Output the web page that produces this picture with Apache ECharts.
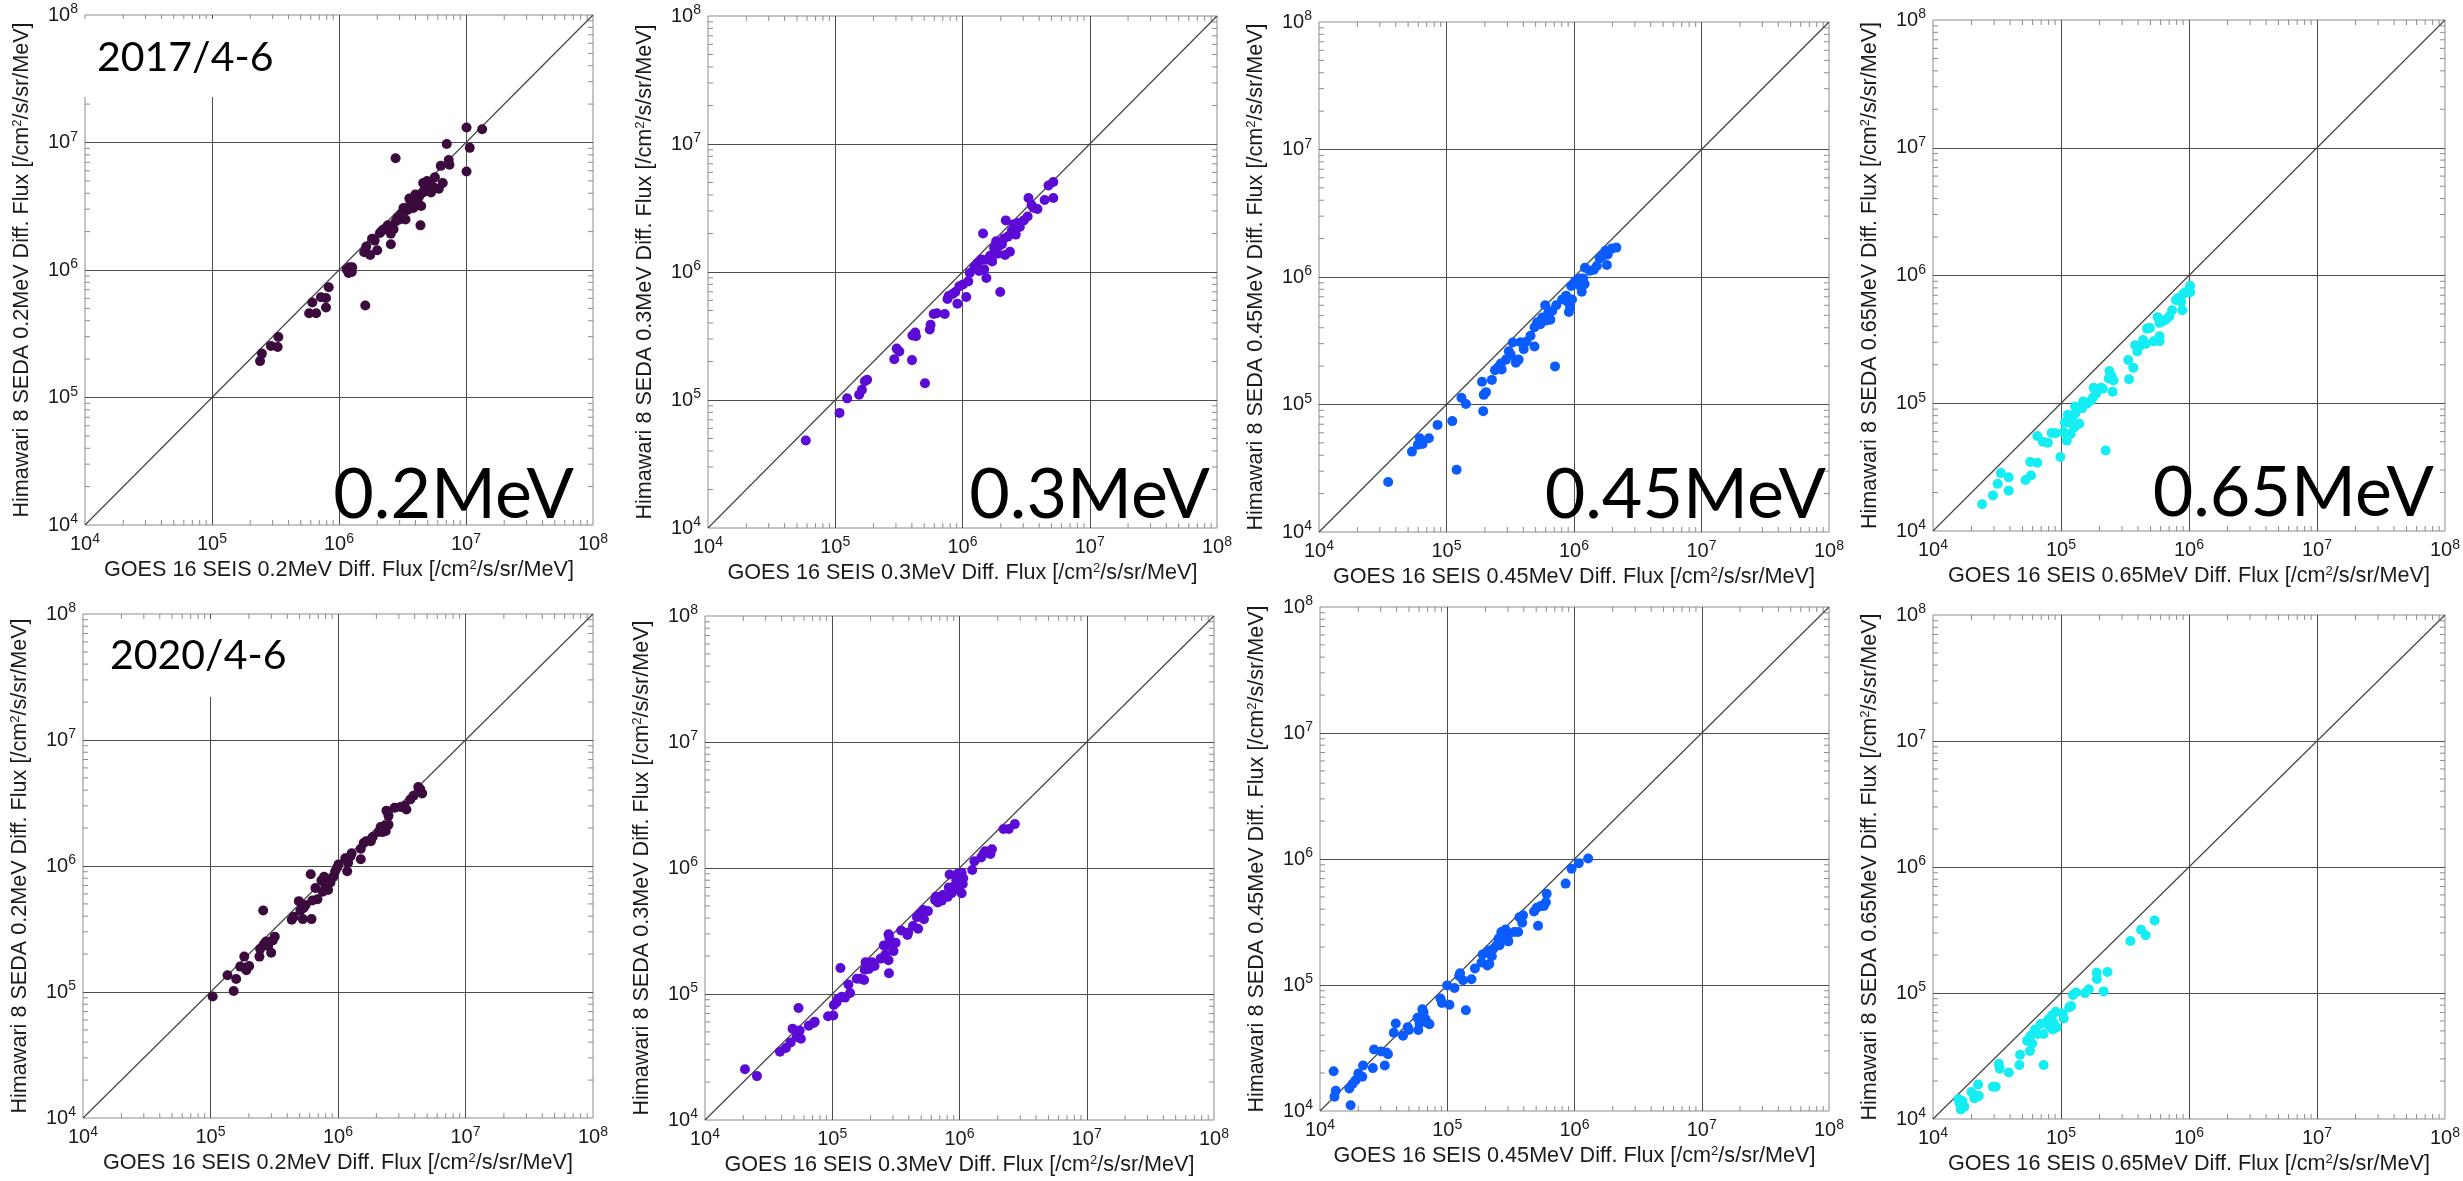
<!DOCTYPE html>
<html><head><meta charset="utf-8">
<script src="https://cdn.jsdelivr.net/npm/echarts@6/dist/echarts.min.js"></script>
<style>html,body{margin:0;padding:0;background:#fff}#c{width:2463px;height:1181px}</style>
</head><body><div id="c"></div>
<script>
// ---------- data ----------
const energies = ['0.2MeV', '0.3MeV', '0.45MeV', '0.65MeV'];
const periods = ['2017/4-6', '2020/4-6'];
const energyColors = ['#3b0b3e', '#5c0ad6', '#0a5cff', '#14eef2'];
const minorTickValues = [2e4,3e4,4e4,5e4,6e4,7e4,8e4,9e4, 2e5,3e5,4e5,5e5,6e5,7e5,8e5,9e5,
  2e6,3e6,4e6,5e6,6e6,7e6,8e6,9e6, 2e7,3e7,4e7,5e7,6e7,7e7,8e7,9e7];
const diagLine = [[1e4, 1e4], [1e8, 1e8]];

const p17_02 = [[2.39e5,1.93e5],[2.47e5,2.21e5],[2.91e5,2.54e5],[3.29e5,2.49e5],[3.33e5,2.98e5],
[5.82e5,4.58e5],[6.16e5,5.56e5],[6.61e5,4.58e5],[7.2e5,6.12e5],[7.9e5,6.04e5],[7.9e5,5.08e5],[8.3e5,7.33e5],
[1.15e6,1.01e6],[1.21e6,1.05e6],[1.26e6,9.66e5],[1.27e6,1.05e6],[1.19e6,9.46e5],
[1.61e6,5.26e5],[1.58e6,1.38e6],[1.64e6,1.53e6],[1.76e6,1.31e6],[1.82e6,1.76e6],[1.91e6,1.7e6],[2.0e6,1.43e6],[2.1e6,1.95e6],[2.17e6,2.02e6],[2.25e6,2.09e6],
[2.56e6,1.59e6],[2.56e6,1.93e6],[2.69e6,2.09e6],[2.79e6,2.4e6],[2.89e6,2.58e6],[2.79e6,7.53e6],[2.42e6,2.24e6],[3.0e6,2.49e6],
[3.1e6,2.76e6],[3.22e6,3.06e6],[3.34e6,2.49e6],[3.46e6,2.96e6],[3.58e6,3.64e6],[3.71e6,3.29e6],[3.85e6,3.52e6],[3.99e6,3.91e6],
[4.13e6,3.52e6],[4.28e6,3.78e6],[4.38e6,2.24e6],[4.44e6,3.18e6],[4.6e6,4.05e6],[4.6e6,4.81e6],[4.77e6,4.49e6],[4.94e6,4.98e6],
[5.12e6,4.65e6],[5.3e6,4.05e6],[5.5e6,4.49e6],[5.69e6,5.33e6],[6.11e6,4.34e6],[6.33e6,6.56e6],[6.56e6,4.81e6],[7.05e6,9.72e6],
[7.31e6,7.28e6],[7.41e6,6.7e6],[1.01e7,1.31e7],[1.07e7,9.08e6],[1.01e7,5.92e6],[1.34e7,1.27e7],[3.58e6,3.06e6],[3.85e6,3.06e6]];

const p17_03 = [[5.87e4,4.82e4],[1.08e5,7.93e4],[1.24e5,1.03e5],[1.54e5,1.1e5],[1.62e5,1.2e5],[1.71e5,1.4e5],[1.78e5,1.44e5],
[2.91e5,2.08e5],[3.04e5,2.52e5],[3.19e5,2.39e5],[4.01e5,2.05e5],[4.04e5,3.19e5],[4.25e5,3.37e5],[4.31e5,3.15e5],[5.07e5,1.35e5],
[5.53e5,3.56e5],[5.61e5,3.87e5],[5.94e5,4.7e5],[6.29e5,4.76e5],[7.25e5,4.7e5],[7.62e5,6.15e5],[7.78e5,6.5e5],[8.36e5,6.73e5],
[8.79e5,6.97e5],[9.12e5,5.66e5],[9.45e5,7.73e5],[1.01e6,8.0e5],[1.07e6,6.37e5],[1.11e6,8.45e5],[1.14e6,9.84e5],[1.24e6,1.09e6],
[1.31e6,1.17e6],[1.35e6,1.02e6],[1.41e6,1.25e6],[1.45e6,2.0e6],[1.48e6,1.05e6],[1.54e6,8.99e5],[1.56e6,1.25e6],[1.65e6,1.34e6],
[1.71e6,1.21e6],[1.77e6,1.54e6],[1.84e6,1.74e6],[1.88e6,1.39e6],[1.93e6,1.59e6],[1.98e6,6.97e5],[2.04e6,1.65e6],[2.12e6,1.83e6],
[2.16e6,1.36e6],[2.19e6,2.53e6],[2.27e6,1.89e6],[2.36e6,1.44e6],[2.44e6,2.1e6],[2.53e6,2.36e6],[2.62e6,1.96e6],[2.72e6,2.41e6],
[2.82e6,2.25e6],[3.03e6,2.53e6],[3.25e6,2.71e6],[3.3e6,3.78e6],[3.49e6,3.34e6],[3.61e6,3.18e6],[3.88e6,3.11e6],[4.42e6,3.65e6],
[4.74e6,4.74e6],[5.17e6,5.05e6],[5.17e6,3.78e6]];

const p17_045 = [[3.49e4,2.47e4],[5.36e4,4.27e4],[5.96e4,4.83e4],[6.18e4,5.43e4],[6.49e4,4.9e4],[7.28e4,5.43e4],[8.51e4,6.92e4],
[1.11e5,7.41e4],[1.2e5,3.08e4],[1.31e5,1.13e5],[1.42e5,1.01e5],[1.9e5,1.51e5],[1.94e5,8.87e4],[1.96e5,1.19e5],[2.04e5,1.25e5],
[2.27e5,1.56e5],[2.4e5,1.86e5],[2.54e5,1.96e5],[2.67e5,2.1e5],[2.71e5,1.88e5],[2.93e5,2.25e5],[3.08e5,2.62e5],[3.19e5,2.45e5],
[3.31e5,3.06e5],[3.5e5,2.13e5],[3.68e5,2.25e5],[3.81e5,3.08e5],[4.03e5,2.72e5],[4.25e5,3.12e5],[4.56e5,3.46e5],[4.9e5,2.85e5],
[4.9e5,4.03e5],[5.15e5,4.41e5],[5.45e5,4.26e5],[5.65e5,4.82e5],[5.94e5,6.01e5],[6.07e5,4.56e5],[6.29e5,5.24e5],[6.52e5,4.63e5],
[6.75e5,5.42e5],[7.1e5,1.99e5],[7.25e5,6.01e5],[8.07e5,6.67e5],[8.67e5,7.14e5],[8.86e5,6.44e5],[9.12e5,5.31e5],[9.32e5,5.81e5],
[9.51e5,8.49e5],[9.65e5,6.67e5],[1.02e6,9.22e5],[1.07e6,8.79e5],[1.1e6,9.75e5],[1.13e6,8.37e5],[1.15e6,7.66e5],[1.18e6,9.75e5],
[1.21e6,8.79e5],[1.22e6,1.18e6],[1.33e6,1.12e6],[1.43e6,1.14e6],[1.51e6,1.22e6],[1.59e6,1.4e6],[1.68e6,1.46e6],[1.77e6,1.61e6],
[1.81e6,1.24e6],[1.84e6,1.5e6],[1.97e6,1.67e6],[2.15e6,1.7e6]];

const p17_065 = [[2.42e4,1.62e4],[2.94e4,1.9e4],[3.2e4,2.34e4],[3.39e4,2.84e4],[3.9e4,2.07e4],[3.9e4,2.63e4],[5.28e4,2.51e4],
[5.75e4,3.47e4],[5.83e4,2.72e4],[6.53e4,3.42e4],[6.53e4,5.55e4],[7.21e4,5.0e4],[7.89e4,4.9e4],[8.47e4,5.86e4],[9.09e4,5.82e4],
[9.89e4,3.79e4],[1.05e5,5.94e4],[1.07e5,7.06e4],[1.11e5,5.1e4],[1.13e5,8.11e4],[1.16e5,7.06e4],[1.19e5,5.74e4],[1.23e5,7.83e4],
[1.27e5,6.46e4],[1.29e5,8.28e4],[1.29e5,9.44e4],[1.39e5,6.92e4],[1.46e5,9.12e4],[1.49e5,1.03e5],[1.6e5,9.98e4],[1.72e5,1.05e5],
[1.78e5,1.11e5],[1.8e5,1.32e5],[1.88e5,1.19e5],[1.93e5,1.27e5],[2.05e5,1.32e5],[2.12e5,1.3e5],[2.23e5,4.27e4],[2.36e5,1.56e5],
[2.39e5,1.79e5],[2.48e5,1.64e5],[2.53e5,1.23e5],[2.57e5,1.51e5],[3.35e5,2.18e5],[3.4e5,1.54e5],[3.67e5,1.9e5],[3.8e5,2.85e5],
[3.94e5,2.54e5],[4.14e5,2.81e5],[4.38e5,3.12e5],[4.6e5,2.91e5],[4.7e5,3.84e5],[4.94e5,3.89e5],[5.3e5,3.06e5],[5.69e5,4.72e5],
[5.89e5,3.06e5],[5.89e5,3.34e5],[5.89e5,4.26e5],[6.32e5,4.41e5],[6.68e5,4.56e5],[7.03e5,4.79e5],[7.38e5,5.35e5],[7.92e5,6.44e5],
[8.26e5,6.67e5],[8.68e5,6.22e5],[8.87e5,5.35e5],[8.99e5,7.14e5],[9.32e5,7.4e5],[9.79e5,7.4e5],[1.02e6,8.32e5],[1.02e6,7.4e5]];

const p20_02 = [[1.04e5,9.2e4],[1.36e5,1.36e5],[1.52e5,1.02e5],[1.59e5,1.27e5],[1.71e5,1.59e5],[1.84e5,1.91e5],[1.87e5,1.56e5],
[1.91e5,1.49e5],[2.01e5,1.61e5],[2.42e5,1.91e5],[2.45e5,2.19e5],[2.59e5,4.44e5],[2.63e5,2.4e5],[2.73e5,2.52e5],[2.83e5,2.32e5],
[2.99e5,2.05e5],[3.08e5,2.57e5],[3.19e5,2.75e5],[4.34e5,3.74e5],[4.5e5,3.95e5],[4.93e5,5.26e5],[5.07e5,4.44e5],[5.3e5,3.79e5],
[5.37e5,4.65e5],[5.57e5,4.91e5],[6.11e5,8.61e5],[6.2e5,3.79e5],[6.29e5,5.33e5],[6.65e5,6.68e5],[6.9e5,5.45e5],[7.41e5,7.66e5],
[7.57e5,6.24e5],[7.78e5,8.2e5],[7.96e5,7.02e5],[8.24e5,7.4e5],[8.36e5,6.46e5],[8.73e5,7.4e5],[9.18e5,8.2e5],[9.51e5,9.08e5],
[9.86e5,9.72e5],[1.01e6,1.03e6],[1.14e6,1.15e6],[1.18e6,9.08e5],[1.2e6,1.06e6],[1.25e6,1.19e6],[1.28e6,1.26e6],[1.51e6,1.13e6],
[1.51e6,1.37e6],[1.59e6,1.52e6],[1.66e6,1.57e6],[1.81e6,1.57e6],[1.87e6,1.7e6],[2.09e6,1.86e6],[2.16e6,2.04e6],[2.24e6,1.86e6],
[2.32e6,2.09e6],[2.37e6,1.9e6],[2.4e6,2.75e6],[2.49e6,2.13e6],[2.49e6,2.5e6],[2.78e6,2.9e6],[3.09e6,2.94e6],[3.32e6,3.01e6],
[3.44e6,2.81e6],[3.69e6,3.37e6],[3.91e6,3.61e6],[4.26e6,4.23e6],[4.41e6,4.08e6],[4.57e6,3.77e6]];

const p20_03 = [[2.06e4,2.53e4],[2.56e4,2.23e4],[3.88e4,3.48e4],[4.32e4,3.73e4],[4.71e4,4.13e4],[4.88e4,5.31e4],[5.24e4,4.57e4],
[5.43e4,7.73e4],[5.55e4,5.14e4],[5.67e4,4.42e4],[6.54e4,5.61e4],[7.13e4,5.89e4],[7.28e4,6.01e4],[9.27e4,6.65e4],[1.02e5,6.75e4],
[1.03e5,8.17e4],[1.08e5,8.57e4],[1.11e5,9.17e4],[1.16e5,1.61e5],[1.19e5,9.49e4],[1.26e5,9.36e4],[1.34e5,1.19e5],[1.38e5,1.02e5],
[1.56e5,1.32e5],[1.66e5,1.32e5],[1.78e5,1.29e5],[1.8e5,1.56e5],[1.83e5,1.79e5],[1.94e5,1.58e5],[2.05e5,1.79e5],[2.15e5,1.67e5],
[2.4e5,1.91e5],[2.54e5,2.43e5],[2.61e5,2.05e5],[2.77e5,2.98e5],[2.77e5,2.43e5],[2.77e5,1.85e5],[2.79e5,1.46e5],[2.81e5,2.79e5],
[3.03e5,2.19e5],[3.15e5,2.55e5],[3.48e5,3.19e5],[3.9e5,2.94e5],[3.95e5,3.08e5],[4.31e5,3.47e5],[4.63e5,4.06e5],[4.73e5,3.3e5],
[4.9e5,4.34e5],[5.19e5,4.64e5],[5.26e5,3.92e5],[5.65e5,4.55e5],[6.43e5,5.58e5],[6.52e5,5.9e5],[6.75e5,5.32e5],[7.1e5,5.9e5],
[7.25e5,5.51e5],[7.41e5,6.1e5],[7.78e5,5.97e5],[8.07e5,5.9e5],[8.24e5,7.0e5],[8.36e5,8.87e5],[8.67e5,6.31e5],[9.18e5,7.22e5],
[9.45e5,8.01e5],[9.65e5,9.0e5],[9.86e5,6.76e5],[1.01e6,8.29e5],[1.04e6,9.18e5],[1.04e6,6.31e5],[1.06e6,7.48e5],[1.07e6,8.29e5],
[1.26e6,9.64e5],[1.31e6,1.13e6],[1.48e6,1.21e6],[1.54e6,1.29e6],[1.59e6,1.36e6],[1.67e6,1.34e6],[1.75e6,1.29e6],[1.8e6,1.41e6],
[2.22e6,2.04e6],[2.44e6,2.04e6],[2.72e6,2.23e6]];

const p20_045 = [[1.28e4,2.07e4],[1.3e4,1.3e4],[1.33e4,1.45e4],[1.7e4,1.51e4],[1.74e4,1.11e4],[1.8e4,1.64e4],[1.9e4,1.75e4],
[2.0e4,1.98e4],[2.15e4,1.87e4],[2.18e4,2.3e4],[2.6e4,2.19e4],[2.66e4,3.08e4],[3.03e4,2.97e4],[3.23e4,2.3e4],[3.34e4,2.91e4],
[3.42e4,2.82e4],[3.8e4,4.18e4],[3.94e4,4.95e4],[4.49e4,3.96e4],[4.89e4,4.63e4],[4.99e4,4.39e4],[5.84e4,5.49e4],[5.92e4,4.39e4],
[6.06e4,4.95e4],[6.37e4,6.43e4],[6.51e4,6.08e4],[6.74e4,5.38e4],[6.99e4,5.02e4],[7.24e4,4.89e4],[8.84e4,7.82e4],[9.09e4,7.21e4],
[9.98e4,9.93e4],[1.04e5,6.97e4],[1.14e5,9.46e4],[1.24e5,1.18e5],[1.26e5,1.24e5],[1.33e5,1.09e5],[1.4e5,6.3e4],[1.55e5,1.11e5],
[1.65e5,1.35e5],[1.86e5,1.51e5],[1.9e5,1.75e5],[2.07e5,1.43e5],[2.11e5,1.87e5],[2.14e5,1.47e5],[2.24e5,1.69e5],[2.3e5,1.94e5],
[2.44e5,2.07e5],[2.53e5,2.34e5],[2.58e5,2.07e5],[2.66e5,2.63e5],[2.77e5,2.3e5],[2.87e5,2.76e5],[2.98e5,2.41e5],[3.02e5,2.22e5],
[3.36e5,2.63e5],[3.61e5,2.63e5],[3.69e5,3.45e5],[3.88e5,3.12e5],[3.94e5,3.57e5],[4.81e5,3.83e5],[5.06e5,4.1e5],[5.17e5,2.95e5],
[5.43e5,4.24e5],[5.74e5,4.24e5],[5.96e5,4.54e5],[6.04e5,5.31e5],[8.51e5,6.38e5],[9.48e5,8.38e5],[1.08e6,9.27e5],[1.28e6,1.01e6]];

const p20_065 = [[1.58e4,1.44e4],[1.61e4,1.34e4],[1.65e4,1.19e4],[1.7e4,1.39e4],[1.76e4,1.25e4],[2.0e4,1.64e4],[2.1e4,1.46e4],
[2.22e4,1.5e4],[2.25e4,1.88e4],[2.28e4,1.53e4],[2.94e4,1.8e4],[3.09e4,1.8e4],[3.27e4,2.74e4],[3.32e4,2.51e4],[3.91e4,2.34e4],
[4.73e4,2.68e4],[4.79e4,3.24e4],[5.44e4,4.17e4],[5.72e4,3.47e4],[5.76e4,4.56e4],[5.96e4,3.98e4],[6.26e4,5.13e4],[6.63e4,4.72e4],
[6.96e4,5.67e4],[7.32e4,2.68e4],[7.32e4,4.72e4],[7.63e4,5.8e4],[8.02e4,6.2e4],[8.13e4,5.48e4],[8.49e4,6.64e4],[8.61e4,5.13e4],
[8.73e4,5.8e4],[9.11e4,7.1e4],[9.24e4,5.33e4],[1.03e5,6.87e4],[1.05e5,6.28e4],[1.16e5,7.71e4],[1.2e5,7.87e4],[1.24e5,9.64e4],
[1.31e5,1.01e5],[1.54e5,9.98e4],[1.65e5,1.07e5],[1.9e5,1.45e5],[1.91e5,1.29e5],[2.15e5,1.03e5],[2.31e5,1.47e5],[3.48e5,2.59e5],
[4.22e5,3.18e5],[4.59e5,2.87e5],[5.39e5,3.77e5]];

const panelData = [p17_02, p17_03, p17_045, p17_065, p20_02, p20_03, p20_045, p20_065];

// ---------- layout (pixels) ----------
const gridBoxes = [
  [85, 15, 508, 510], [708, 16, 509, 512], [1319, 22, 510, 510], [1933, 20, 516, 511],
  [83, 614, 510, 504], [705, 616, 509, 504], [1320, 607, 509, 504], [1933, 615, 517, 504]
];
const AX_FONT = 'Liberation Sans';
const TXT = '#1a1a1a';

function tickFmt(v) {
  const e = Math.round(Math.log10(v));
  return '{b|10}{s|' + e + '}';
}
const tickRich = {
  b: { fontSize: 20, fontFamily: AX_FONT, color: TXT },
  s: { fontSize: 14, fontFamily: AX_FONT, color: TXT, padding: [0, 0, 11, 0] }
};
const nameStyle = {
  fontSize: 21.6, fontFamily: AX_FONT, color: TXT,
  rich: { sup: { fontSize: 13, fontFamily: AX_FONT, color: TXT, padding: [0, 0, 10, 0] } }
};

const option = { animation: false, grid: [], xAxis: [], yAxis: [], series: [], graphic: [] };

gridBoxes.forEach((g, i) => {
  const e = energies[i % 4];
  option.grid.push({ left: g[0], top: g[1], width: g[2], height: g[3], show: true,
    borderColor: '#8c8c8c', borderWidth: 1, backgroundColor: 'rgba(0,0,0,0)' });
  const common = {
    type: 'log', logBase: 10, min: 1e4, max: 1e8, splitNumber: 4, gridIndex: i,
    axisLine: { show: false }, axisTick: { show: false },
    splitLine: { show: true, showMinLine: false, showMaxLine: false, lineStyle: { color: '#4d4d4d', width: 1 } },
    axisLabel: { formatter: tickFmt, rich: tickRich, margin: 7, showMinLabel: true, showMaxLabel: true },
    nameLocation: 'middle', nameTextStyle: nameStyle
  };
  option.xAxis.push(Object.assign({}, common, {
    name: 'GOES 16 SEIS ' + e + ' Diff. Flux [/cm{sup|2}/s/sr/MeV]', nameGap: 34
  }));
  option.yAxis.push(Object.assign({}, common, {
    name: 'Himawari 8 SEDA ' + e + ' Diff. Flux [/cm{sup|2}/s/sr/MeV]', nameGap: 51
  }));
  option.series.push({
    type: 'custom', xAxisIndex: i, yAxisIndex: i, silent: true, z: 3,
    data: minorTickValues.map(v => [v, v]),
    renderItem: (params, api) => {
      const v = api.value(0);
      const b = api.coord([v, 1e4]), t = api.coord([v, 1e8]);
      const l = api.coord([1e4, v]), r = api.coord([1e8, v]);
      const L = 5, st = { stroke: '#8c8c8c', lineWidth: 1 };
      return { type: 'group', children: [
        { type: 'line', shape: { x1: b[0], y1: b[1], x2: b[0], y2: b[1] - L }, style: st },
        { type: 'line', shape: { x1: t[0], y1: t[1], x2: t[0], y2: t[1] + L }, style: st },
        { type: 'line', shape: { x1: l[0], y1: l[1], x2: l[0] + L, y2: l[1] }, style: st },
        { type: 'line', shape: { x1: r[0], y1: r[1], x2: r[0] - L, y2: r[1] }, style: st }
      ] };
    }
  });
  option.series.push({
    type: 'line', xAxisIndex: i, yAxisIndex: i, data: diagLine, showSymbol: false, silent: true,
    lineStyle: { color: '#444', width: 1.2 }, z: 4
  });
  option.series.push({
    type: 'scatter', xAxisIndex: i, yAxisIndex: i, data: panelData[i], symbolSize: 10,
    itemStyle: { color: energyColors[i % 4], opacity: 1 }, z: 5
  });
});

// period labels (white boxes hide grid lines behind them)
option.graphic.push(
  { type: 'rect', shape: { x: 80, y: 19, width: 220, height: 78 }, style: { fill: '#fff' }, z: 100 },
  { type: 'text', x: 97, y: 58, z: 101, style: { text: periods[0], font: '41px Lato', fill: '#000', align: 'left', verticalAlign: 'middle' } },
  { type: 'rect', shape: { x: 91, y: 619, width: 210, height: 78 }, style: { fill: '#fff' }, z: 100 },
  { type: 'text', x: 110, y: 656, z: 101, style: { text: periods[1], font: '41px Lato', fill: '#000', align: 'left', verticalAlign: 'middle' } }
);
const energyLabelPos = [[574, 495], [1210, 495], [1826, 495], [2434, 493]];
energyLabelPos.forEach((p, k) => {
  option.graphic.push({ type: 'text', x: p[0], y: p[1], z: 101,
    style: { text: energies[k], font: '70px Lato', fill: '#000', align: 'right', verticalAlign: 'middle' } });
});

const chart = echarts.init(document.getElementById('c'), null, { renderer: 'canvas' });
chart.setOption(option);
</script>
</body></html>
